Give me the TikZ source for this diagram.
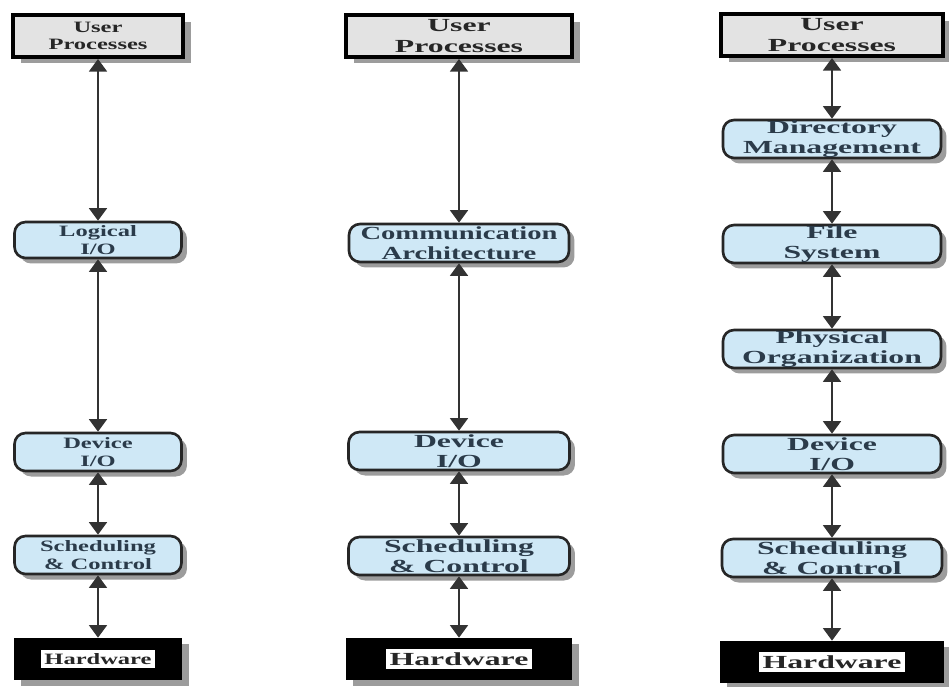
\documentclass[tikz,border=0pt]{standalone}
\usepackage{fontspec}
\setmainfont{Liberation Serif}
\newfontfamily\wideserif[FakeStretch=1.72]{Liberation Serif}
\newfontfamily\narrowserif[FakeStretch=1.55]{Liberation Serif}
\usetikzlibrary{arrows.meta,shadows}

\definecolor{layerblue}{HTML}{CFE8F6}
\definecolor{usergray}{HTML}{E3E3E3}
\definecolor{shadowgray}{HTML}{9C9C9C}
\definecolor{labelink}{HTML}{2B3B4A}

\begin{document}
\begin{tikzpicture}[
      x=0.02cm, y=-0.02cm,
      font=\wideserif\bfseries\fontsize{10.5}{11.5}\selectfont,
      inner ysep=0pt,
      userbox/.style={draw=black, line width=2.3pt, fill=usergray, text=black!85, align=center, minimum height=0.84cm,
        drop shadow={shadow xshift=0.16cm, shadow yshift=-0.13cm, fill=shadowgray, opacity=1}},
      layerbox/.style={draw=black!85, line width=1.5pt, rounded corners=0.22cm, fill=layerblue, text=labelink, align=center, minimum height=0.76cm,
        drop shadow={shadow xshift=0.11cm, shadow yshift=-0.11cm, fill=shadowgray, opacity=1}},
      hwbox/.style={fill=black, text=black!85, minimum height=0.84cm,
        drop shadow={shadow xshift=0.14cm, shadow yshift=-0.12cm, fill=shadowgray, opacity=1}},
      small/.style={font=\narrowserif\bfseries\fontsize{9}{9.8}\selectfont},
      link/.style={{Triangle[width=0.36cm,length=0.25cm]}-{Triangle[width=0.36cm,length=0.25cm]}, line width=0.8pt, draw=black!80}
    ]
      \useasboundingbox (0,0) rectangle (949,686);
      \setlength{\fboxsep}{2pt}
      % left column: device I/O
      \node[userbox, small, minimum width=3.4cm] (user1) at (98,36) {User\\Processes};
      \node[layerbox, small, minimum width=3.34cm, minimum height=0.72cm] (logic1) at (98,240) {Logical\\I/O};
      \node[layerbox, small, minimum width=3.34cm] (dev1) at (98,452) {Device\\I/O};
      \node[layerbox, small, minimum width=3.34cm] (sched1) at (98,555) {Scheduling\\\& Control};
      \node[hwbox, small, minimum width=3.36cm] (hw1) at (98,659) {\colorbox{white}{Hardware}};
      \draw[link] (user1) -- (logic1);
      \draw[link] (logic1) -- (dev1);
      \draw[link] (dev1) -- (sched1);
      \draw[link] (sched1) -- (hw1);
      % middle column: communications
      \node[userbox, minimum width=4.52cm] (user2) at (459,36) {User\\Processes};
      \node[layerbox, minimum width=4.4cm, font=\narrowserif\bfseries\fontsize{10.5}{11.5}\selectfont] (comm2) at (459,243) {Communication\\Architecture};
      \node[layerbox, minimum width=4.42cm] (dev2) at (459,451) {Device\\I/O};
      \node[layerbox, minimum width=4.42cm] (sched2) at (459,556) {Scheduling\\\& Control};
      \node[hwbox, minimum width=4.54cm] (hw2) at (459,659) {\colorbox{white}{Hardware}};
      \draw[link] (user2) -- (comm2);
      \draw[link] (comm2) -- (dev2);
      \draw[link] (dev2) -- (sched2);
      \draw[link] (sched2) -- (hw2);
      % right column: file system
      \node[userbox, minimum width=4.44cm] (user3) at (832,35) {User\\Processes};
      \node[layerbox, minimum width=4.36cm] (dir3) at (832,139) {Directory\\Management};
      \node[layerbox, minimum width=4.36cm] (fs3) at (832,244) {File\\System};
      \node[layerbox, minimum width=4.36cm] (phys3) at (832,349) {Physical\\Organization};
      \node[layerbox, minimum width=4.36cm] (dev3) at (832,454) {Device\\I/O};
      \node[layerbox, minimum width=4.4cm] (sched3) at (832,558) {Scheduling\\\& Control};
      \node[hwbox, minimum width=4.5cm] (hw3) at (832,662) {\colorbox{white}{Hardware}};
      \draw[link] (user3) -- (dir3);
      \draw[link] (dir3) -- (fs3);
      \draw[link] (fs3) -- (phys3);
      \draw[link] (phys3) -- (dev3);
      \draw[link] (dev3) -- (sched3);
      \draw[link] (sched3) -- (hw3);
    \end{tikzpicture}
\end{document}
